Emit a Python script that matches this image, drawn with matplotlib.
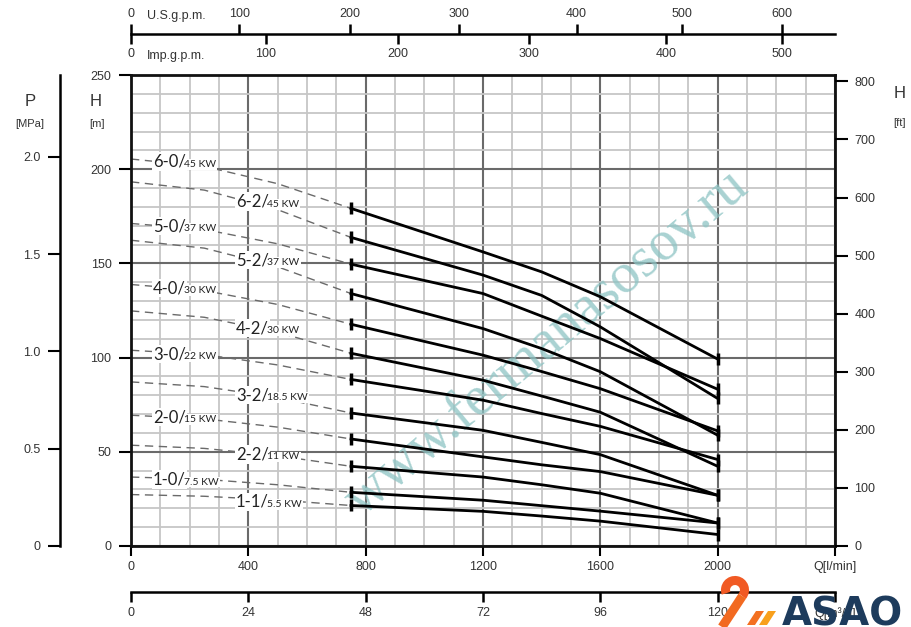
import matplotlib
matplotlib.use("Agg")
import matplotlib.pyplot as plt
from matplotlib.patches import Polygon, Arc

W, HP = 911, 627
DPI = 100

# ---------------- data ----------------
models = ["6-0", "6-2", "5-0", "5-2", "4-0", "4-2", "3-0", "3-2", "2-0", "2-2", "1-0", "1-1"]
motor_kw = ["45 KW", "45 KW", "37 KW", "37 KW", "30 KW", "30 KW", "22 KW",
            "18.5 KW", "15 KW", "11 KW", "7.5 KW", "5.5 KW"]

q_dashed = [0, 250, 500, 750]            # l/min (extrapolated part)
q_solid = [750, 1200, 1400, 1600, 2000]  # l/min (operating range)

h_dash_6_0 = [205.4, 201.5, 192.3, 179.2]
h_dash_6_2 = [193.3, 188.9, 178.5, 163.8]
h_dash_5_0 = [171.2, 168.0, 160.4, 149.6]
h_dash_5_2 = [162.3, 158.1, 148.2, 134.0]
h_dash_4_0 = [138.8, 135.6, 128.2, 117.7]
h_dash_4_2 = [124.8, 121.4, 113.5, 102.3]
h_dash_3_0 = [103.9, 101.6, 96.1, 88.4]
h_dash_3_2 = [87.1, 84.6, 78.8, 70.6]
h_dash_2_0 = [69.4, 67.5, 63.1, 56.8]
h_dash_2_2 = [53.5, 51.8, 47.9, 42.3]
h_dash_1_0 = [36.6, 35.4, 32.5, 28.5]
h_dash_1_1 = [27.3, 26.4, 24.4, 21.5]

h_6_0 = [179.2, 156.1, 145.5, 132.3, 99.2]
h_6_2 = [163.8, 143.8, 133.0, 116.3, 78.3]
h_5_0 = [149.6, 134.0, 122.0, 110.1, 83.2]
h_5_2 = [134.0, 115.4, 104.8, 92.5, 58.8]
h_4_0 = [117.7, 101.3, 92.6, 83.5, 61.1]
h_4_2 = [102.3, 88.0, 79.6, 71.0, 42.3]
h_3_0 = [88.4, 77.4, 70.3, 63.5, 45.9]
h_3_2 = [70.6, 61.4, 55.0, 48.5, 26.9]
h_2_0 = [56.8, 47.3, 43.1, 39.5, 26.9]
h_2_2 = [42.3, 36.6, 32.5, 28.0, 12.2]
h_1_0 = [28.5, 24.3, 21.4, 18.5, 12.2]
h_1_1 = [21.5, 18.4, 15.9, 13.2, 6.1]

dashed_heads = [h_dash_6_0, h_dash_6_2, h_dash_5_0, h_dash_5_2, h_dash_4_0, h_dash_4_2,
                h_dash_3_0, h_dash_3_2, h_dash_2_0, h_dash_2_2, h_dash_1_0, h_dash_1_1]
solid_heads = [h_6_0, h_6_2, h_5_0, h_5_2, h_4_0, h_4_2,
               h_3_0, h_3_2, h_2_0, h_2_2, h_1_0, h_1_1]

# tick labels
q_lpm_ticks = [0, 400, 800, 1200, 1600, 2000]
q_m3h_ticks = [0, 24, 48, 72, 96, 120]
h_m_ticks = [0, 50, 100, 150, 200, 250]
h_ft_ticks = [0, 100, 200, 300, 400, 500, 600, 700, 800]
p_mpa_ticks = [0, 0.5, 1.0, 1.5, 2.0]
p_mpa_labels = ["0", "0.5", "1.0", "1.5", "2.0"]
us_gpm_ticks = [0, 100, 200, 300, 400, 500, 600]
us_gpm_at_lpm = [0, 369, 746, 1117, 1519, 1877, 2219]
imp_gpm_ticks = [0, 100, 200, 300, 400, 500]
imp_gpm_at_lpm = [0, 460, 909, 1356, 1823, 2219]

# label anchors (layout)
label_q = [75, 358] * 6
label_h = [204.5, 183.2, 170.3, 152.3, 137.4, 116.2, 102.4, 80.6, 68.9, 49.1, 35.8, 23.9]

# ---------------- styling ----------------
AXF = ["Liberation Sans Narrow", "Liberation Sans", "DejaVu Sans"]
LBF = ["Lato", "Open Sans", "DejaVu Sans"]
TXT = "#333333"
plt.rcParams["font.family"] = AXF


def fx(x):
    return x / W


def fy(y):
    return 1 - y / HP


fig = plt.figure(figsize=(W / DPI, HP / DPI), dpi=DPI)
fig.patch.set_facecolor("white")

L, R, T, B = 131, 835, 75, 546
ax = fig.add_axes([fx(L), fy(B), (R - L) / W, (B - T) / HP])
ax.set_xlim(0, 2400)
ax.set_ylim(0, 250)
ax.set_xticks(q_lpm_ticks + [2400])
ax.set_xticklabels([str(v) for v in q_lpm_ticks] + ["Q[l/min]"])
ax.set_xticks(range(0, 2401, 100), minor=True)
ax.set_yticks(h_m_ticks)
ax.set_yticklabels([str(v) for v in h_m_ticks])
ax.set_yticks(range(0, 251, 10), minor=True)
ax.grid(which="minor", color="#c6c6c6", lw=1.3)
ax.grid(which="major", color="#6a6a6a", lw=1.5)
ax.set_axisbelow(True)
for s in ax.spines.values():
    s.set_linewidth(2.0)
    s.set_color("#111111")
ax.tick_params(which="minor", length=0)
ax.tick_params(axis="x", which="major", direction="out", length=7.5, width=1.5,
               pad=3, labelsize=9, labelcolor=TXT)
ax.tick_params(axis="y", which="major", direction="out", length=9, width=1.5,
               pad=5, labelsize=9, labelcolor=TXT)

# curves
for hd, hs in zip(dashed_heads, solid_heads):
    ax.plot(q_dashed, hd, color="#6a6a6a", lw=1.0, ls=(0, (6, 4)), zorder=2)
    ax.plot(q_solid, hs, color="black", lw=2.0, zorder=3, solid_joinstyle="round")
    ax.plot([q_solid[0], q_solid[-1]], [hs[0], hs[-1]], ls="none", marker="|",
            ms=8, mew=2.5, color="black", zorder=3)

# curve labels
renderer = fig.canvas.get_renderer()
bb = dict(boxstyle="square,pad=0.08", fc="white", ec="none")
for m, kw, q, h in zip(models, motor_kw, label_q, label_h):
    t = ax.annotate(m + "/", xy=(q, h), xytext=(0, -4.3), textcoords="offset points",
                    va="baseline", ha="left", fontsize=12, family=LBF, color="#222222",
                    bbox=bb, zorder=5)
    wpt = t.get_window_extent(renderer).width * 72 / DPI
    ax.annotate(kw, xy=(q, h), xytext=(wpt - 1.0, -4.3), textcoords="offset points",
                va="baseline", ha="left", fontsize=7.5, family=LBF, color="#222222",
                bbox=bb, zorder=5)

# watermark
ax.text(fx(547), fy(343), "www.fermanasosov.ru", transform=fig.transFigure,
        rotation=40, ha="center", va="center", fontsize=41,
        family=["Liberation Serif", "DejaVu Serif"], color="#8cc3c3", alpha=0.75,
        zorder=2.5)

# right H[ft] axis
axf = ax.twinx()
axf.set_ylim(0, 811)
axf.set_yticks(h_ft_ticks)
axf.set_yticklabels([str(v) for v in h_ft_ticks])
axf.tick_params(axis="y", direction="out", length=9, width=1.5, pad=5,
                labelsize=9, labelcolor=TXT)
for s in axf.spines.values():
    s.set_visible(False)

# left P axis
axp = fig.add_axes([fx(60), fy(B), 0.0001, (B - T) / HP])
axp.set_ylim(0, 2.42)
axp.set_yticks(p_mpa_ticks)
axp.set_yticklabels(p_mpa_labels)
axp.set_xticks([])
axp.patch.set_visible(False)
for k in ["top", "right", "bottom"]:
    axp.spines[k].set_visible(False)
axp.spines["left"].set_linewidth(1.8)
axp.tick_params(axis="y", direction="out", length=9, width=1.5, pad=5,
                labelsize=9, labelcolor=TXT)

# top gpm axes
axi = fig.add_axes([fx(L), fy(34), (R - L) / W, 0.0001])
axi.set_xlim(0, 2400)
axi.patch.set_visible(False)
axi.set_yticks([])
for k in ["top", "left", "right"]:
    axi.spines[k].set_visible(False)
axi.spines["bottom"].set_linewidth(1.8)
axi.set_xticks(imp_gpm_at_lpm)
axi.set_xticklabels([str(v) for v in imp_gpm_ticks])
axi.tick_params(axis="x", direction="out", length=7, width=1.8, pad=3,
                labelsize=9, labelcolor=TXT)
axu = axi.twiny()
axu.set_xlim(0, 2400)
axu.patch.set_visible(False)
for s in axu.spines.values():
    s.set_visible(False)
axu.set_xticks(us_gpm_at_lpm)
axu.set_xticklabels([str(v) for v in us_gpm_ticks])
axu.tick_params(axis="x", direction="out", length=7, width=1.8, pad=3,
                labelsize=9, labelcolor=TXT)

# bottom m3/h axis
axm = fig.add_axes([fx(L), fy(592), (R - L) / W, 0.0001])
axm.set_xlim(0, 2400)
axm.patch.set_visible(False)
axm.set_yticks([])
for k in ["top", "left", "right"]:
    axm.spines[k].set_visible(False)
axm.spines["bottom"].set_linewidth(1.8)
axm.set_xticks([v * 1000 / 60 for v in q_m3h_ticks] + [2400])
axm.set_xticklabels([str(v) for v in q_m3h_ticks] + ["Q[m³/h]"])
axm.tick_params(axis="x", direction="out", length=7, width=1.8, pad=4,
                labelsize=9, labelcolor=TXT)

# axis titles
fig.text(fx(30), fy(101), "P", ha="center", va="center", fontsize=12, color=TXT)
fig.text(fx(30), fy(124), "[MPa]", ha="center", va="center", fontsize=8, color=TXT)
fig.text(fx(96), fy(101), "H", ha="center", va="center", fontsize=12, color=TXT)
fig.text(fx(97), fy(124), "[m]", ha="center", va="center", fontsize=8, color=TXT)
fig.text(fx(900), fy(93), "H", ha="center", va="center", fontsize=12, color=TXT)
fig.text(fx(900), fy(123), "[ft]", ha="center", va="center", fontsize=8, color=TXT)
fig.text(fx(147), fy(16), "U.S.g.p.m.", ha="left", va="center", fontsize=9, color=TXT)
fig.text(fx(147), fy(56), "Imp.g.p.m.", ha="left", va="center", fontsize=9, color=TXT)

# logo overlay
axo = fig.add_axes([0, 0, 1, 1], zorder=20)
axo.set_xlim(0, W)
axo.set_ylim(0, HP)
axo.axis("off")
axo.add_patch(Arc((735, 37), 19, 19, theta1=-40, theta2=200, lw=6.5, color="#f15a24"))
axo.plot([742.3, 722], [30.9, 0], color="#f26a21", lw=6.5, solid_capstyle="butt")
axo.add_patch(Polygon([(747, 2), (756, 16), (764, 16), (755, 2)], closed=True,
                      fc="#f37021", ec="none"))
axo.add_patch(Polygon([(759, 2), (768, 16), (776, 16), (767, 2)], closed=True,
                      fc="#f8a01c", ec="none"))
axo.text(782, 2, "ASAO", ha="left", va="baseline", fontsize=28, fontweight="bold",
         family=["DejaVu Sans"], color="#1d3b5c")

fig.savefig("out.png", dpi=DPI, facecolor="white")
